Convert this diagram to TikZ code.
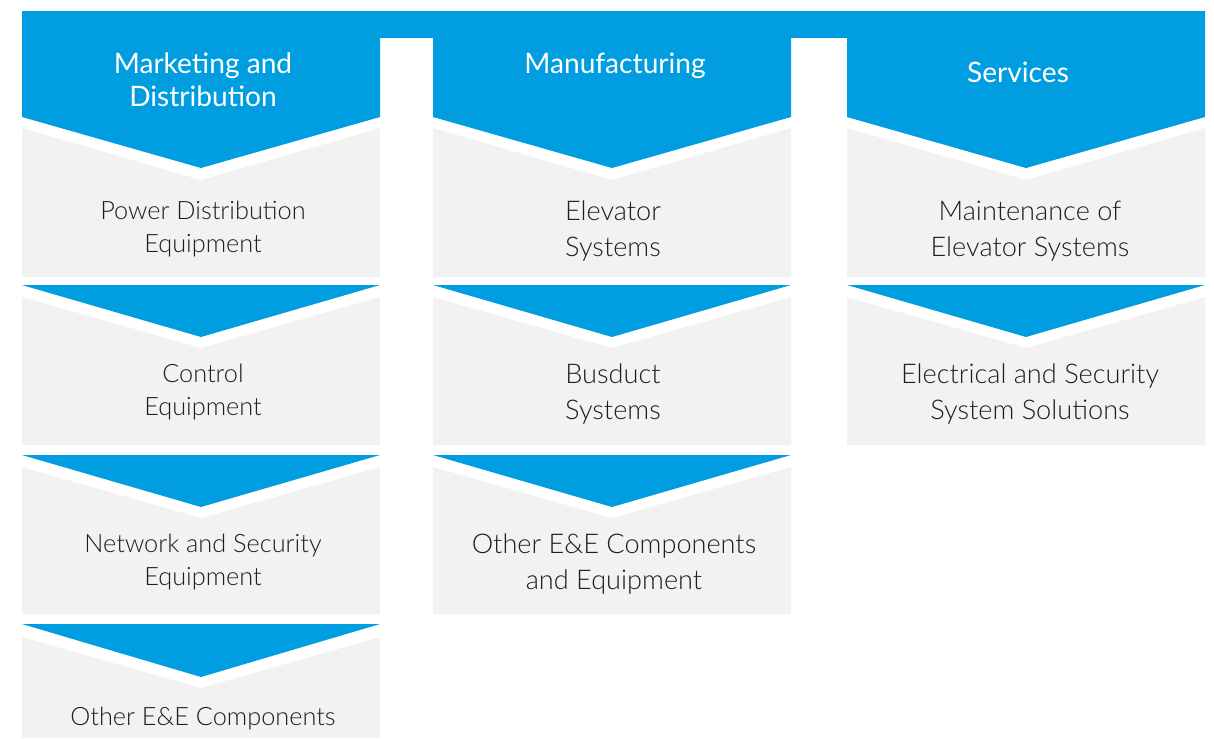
\documentclass[tikz,border=0pt]{standalone}
\usepackage{fontspec}
\setmainfont{Lato}
\newfontfamily\lightfont{Lato Light}
\usetikzlibrary{positioning}
\definecolor{segblue}{RGB}{0, 158, 224}
\definecolor{boxgray}{RGB}{242, 242, 242}
\definecolor{ink}{RGB}{30, 30, 30}

\begin{document}
\begin{tikzpicture}[
  x=0.025cm, y=-0.025cm,
  head/.style={font=\fontsize{20}{23.5}\selectfont, text=white, align=center},
  item/.style={font=\lightfont\fontsize{18}{24}\selectfont, text=ink, align=center},
  tallitem/.style={item, font=\lightfont\fontsize{19.3}{25.5}\selectfont},
  blue/.style={fill=segblue},
  gray/.style={fill=boxgray}
]
  \useasboundingbox (0,0) rectangle (1214,738);

  % Header band
  \fill[blue] (22,11) rectangle (1205,38);
  \fill[blue] (22,11) -- (380,11) -- (380,117) -- (201,168) -- (22,117) -- cycle;
  \fill[blue] (433,11) -- (791,11) -- (791,117) -- (612,168) -- (433,117) -- cycle;
  \fill[blue] (847,11) -- (1205,11) -- (1205,117) -- (1026,168) -- (847,117) -- cycle;
  \node[head] (mkt) at (203,80) {Marketing and\\Distribution};
  \node[head] (mfg) at (615,66) {Manufacturing};
  \node[head] (svc) at (1018,72) {Services};

  % First row
  \fill[gray] (22,128) -- (201,180) -- (380,128) -- (380,277) -- (22,277) -- cycle;
  \fill[gray] (433,128) -- (612,180) -- (791,128) -- (791,277) -- (433,277) -- cycle;
  \fill[gray] (847,128) -- (1026,180) -- (1205,128) -- (1205,277) -- (847,277) -- cycle;
  \node[item] (power) at (203,229) {Power Distribution\\Equipment};
  \node[tallitem] (elevator) at (613,231) {Elevator\\Systems};
  \node[tallitem] (maint) at (1030,231) {Maintenance of\\Elevator Systems};

  % Second row
  \fill[blue] (22,285) -- (380,285) -- (201,337) -- cycle;
  \fill[blue] (433,285) -- (791,285) -- (612,337) -- cycle;
  \fill[blue] (847,285) -- (1205,285) -- (1026,337) -- cycle;
  \fill[gray] (22,297) -- (201,348) -- (380,297) -- (380,445) -- (22,445) -- cycle;
  \fill[gray] (433,297) -- (612,348) -- (791,297) -- (791,445) -- (433,445) -- cycle;
  \fill[gray] (847,297) -- (1026,348) -- (1205,297) -- (1205,445) -- (847,445) -- cycle;
  \node[item] (control) at (203,392) {Control\\Equipment};
  \node[tallitem] (busduct) at (613,394) {Busduct\\Systems};
  \node[tallitem] (elec) at (1030,394) {Electrical and Security\\System Solutions};

  % Third row
  \fill[blue] (22,455) -- (380,455) -- (201,507) -- cycle;
  \fill[blue] (433,455) -- (791,455) -- (612,507) -- cycle;
  \fill[gray] (22,467) -- (201,518) -- (380,467) -- (380,614) -- (22,614) -- cycle;
  \fill[gray] (433,467) -- (612,518) -- (791,467) -- (791,614) -- (433,614) -- cycle;
  \node[item] (network) at (203,562) {Network and Security\\Equipment};
  \node[tallitem] (othermfg) at (614,564) {Other E\&E Components\\and Equipment};

  % Fourth row
  \fill[blue] (22,624) -- (380,624) -- (201,677) -- cycle;
  \fill[gray] (22,637) -- (201,688) -- (380,637) -- (380,738) -- (22,738) -- cycle;
  \node[item] (othermkt) at (203,719) {Other E\&E Components};
\end{tikzpicture}
\end{document}
